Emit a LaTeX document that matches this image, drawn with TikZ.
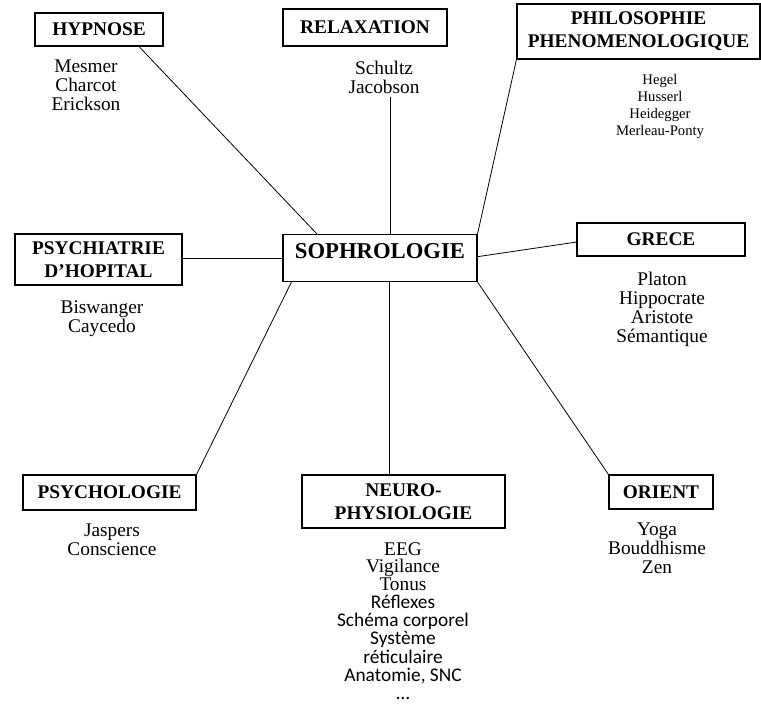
\documentclass[tikz,border=0pt]{standalone}
\usepackage{fontspec}
\setmainfont{Liberation Serif}
\newfontfamily\calib{Carlito}
\usetikzlibrary{positioning}

\tikzset{
  theme/.style={draw, line width=0.8pt, align=center, inner sep=0pt,
    font=\bfseries\fontsize{14.5}{17}\selectfont},
  names/.style={align=center, inner sep=0pt, anchor=north,
    font=\fontsize{14.5}{14.25}\selectfont},
  link/.style={line width=0.6pt},
}

\begin{document}
\begin{tikzpicture}[x=0.75pt,y=-0.75pt]
  \useasboundingbox (0,0) rectangle (761,720);

  % the centre box
  \node[theme, font=\bfseries\fontsize{17}{20}\selectfont, minimum width=145.5pt,
        text height=18pt, text depth=17.25pt] (sophro) at (380,234) [anchor=north] {SOPHROLOGIE};

  % the themes round it
  \node[theme, minimum width=96pt, minimum height=24.75pt] (hyp) at (99,29.5) {HYPNOSE};
  \node[theme, minimum width=123pt, minimum height=27.75pt] (relax) at (365,27.5) {RELAXATION};
  \node[theme, minimum width=182.25pt, minimum height=41.25pt] (philo) at (638.5,31.5) {PHILOSOPHIE\\PHENOMENOLOGIQUE};
  \node[theme, minimum width=125.25pt, minimum height=38.25pt] (psy) at (98.5,259.5) {PSYCHIATRIE\\D’HOPITAL};
  \node[theme, minimum width=126pt, minimum height=24.75pt] (grece) at (661,239.5) {GRECE};
  \node[theme, minimum width=129.75pt, minimum height=26.25pt] (psycho) at (109.5,492.5) {PSYCHOLOGIE};
  \node[theme, minimum width=152.25pt, minimum height=39.75pt] (neuro) at (403.5,501.5) {NEURO-\\PHYSIOLOGIE};
  \node[theme, minimum width=78pt, minimum height=25.5pt] (orient) at (661,492) {ORIENT};

  % names under each theme
  \node[names] (hlist) at (86,60) {Mesmer\\Charcot\\Erickson};
  \node[names] (rlist) at (384,61) {Schultz\\Jacobson};
  \node[names, font=\fontsize{11}{12.75}\selectfont] (plist) at (660,74) {Hegel\\Husserl\\Heidegger\\Merleau-Ponty};
  \node[names] (pslist) at (102,300) {Biswanger\\Caycedo};
  \node[names] (glist) at (662,272) {Platon\\Hippocrate\\Aristote\\Sémantique};
  \node[names] (jlist) at (112,524) {Jaspers\\Conscience};
  \node[names, font=\fontsize{14.5}{13.1}\selectfont] (nlist) at (403,542) {EEG\\Vigilance\\Tonus};
  \node[names, font=\calib\fontsize{14.5}{13.75}\selectfont, below=3pt of nlist] (nlist2)
    {Réflexes\\Schéma corporel\\Système\\réticulaire\\Anatomie, SNC\\…};
  \node[names] (olist) at (657,523) {Yoga\\Bouddhisme\\Zen};

  % links
  \draw[link] ([xshift=30pt]hyp.south) -- ([xshift=-47.25pt]sophro.north);
  \draw[link] ([xshift=4.5pt,yshift=-2pt]rlist.south) -- ([xshift=7.5pt]sophro.north);
  \draw[link] (philo.south west) -- (sophro.north east);
  \draw[link] (psy.east |- sophro.west) -- (sophro.west);
  \draw[link] ([yshift=1pt]sophro.east) -- ([yshift=-1.9pt]grece.west);
  \draw[link] (psycho.north east) -- ([xshift=6.75pt]sophro.south west);
  \draw[link] ([xshift=6.75pt]sophro.south) -- ([xshift=6.75pt]sophro.south |- neuro.north);
  \draw[link] (sophro.south east) -- (orient.north west);
\end{tikzpicture}
\end{document}
